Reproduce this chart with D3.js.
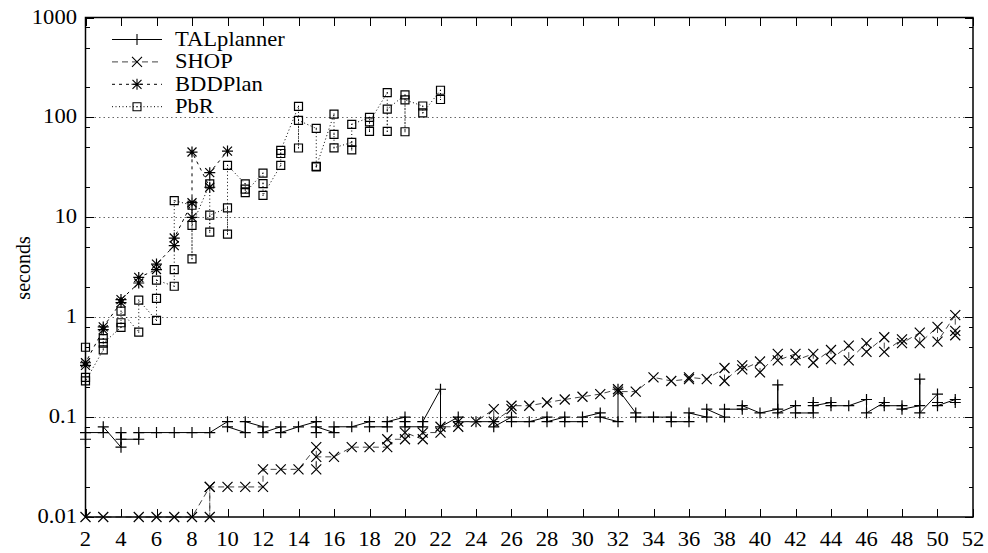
<!DOCTYPE html>
<html>
<head>
<meta charset="utf-8">
<script src="https://cdn.jsdelivr.net/npm/d3@7/dist/d3.min.js"></script>
<style>
  body { margin: 0; background: #fff; }
  svg { display: block; font-family: "Liberation Serif", "Times New Roman", serif; }
  .lbl { font-size: 20px; fill: #000; }
</style>
</head>
<body>
<svg id="chart" width="988" height="553"></svg>
<script>
// problem sizes (x) and run times in seconds, several runs per size, in plot order
const sizesAll = [2,3,4,5,6,7,8,9,10,11,12,13,14,15,16,17,18,19,20,21,22,23,24,25,26,
  27,28,29,30,31,32,33,34,35,36,37,38,39,40,41,42,43,44,45,46,47,48,49,50,51];

const talTimes = [
  [0.06,0.07],[0.07,0.08],[0.05,0.07,0.06],[0.06,0.07],[0.07],[0.07],[0.07],[0.07],
  [0.09,0.08],[0.07,0.09],[0.08,0.07],[0.08,0.07],[0.08],[0.09,0.07,0.08],[0.07,0.08],
  [0.08],[0.09,0.08],[0.08,0.09],[0.1,0.09,0.08],[0.08,0.09],[0.19,0.08],[0.1,0.09],
  [0.09],[0.09,0.08],[0.1,0.09],[0.09],[0.1,0.09],[0.1,0.09],[0.09,0.1],[0.11,0.1],
  [0.09,0.19],[0.11,0.1],[0.1],[0.1,0.09],[0.09,0.11],[0.1,0.12],[0.1,0.12],
  [0.12,0.13],[0.11],[0.12,0.21,0.11],[0.13,0.11],[0.11,0.14,0.13],[0.14,0.13],
  [0.13],[0.15,0.11],[0.14,0.13],[0.13,0.12],[0.13,0.24,0.11],[0.17,0.14,0.13],[0.15,0.14]
];

const shopTimes = [
  [0.01],[0.01],[],[0.01],[0.01],[0.01],[0.01],[0.02,0.01,0.02],[0.02],[0.02],
  [0.02,0.03],[0.03],[0.03],[0.05,0.03,0.04],[0.04],[0.05],[0.05],[0.05,0.06],
  [0.06,0.07],[0.06,0.07],[0.07,0.08],[0.08,0.09],[0.09],[0.12,0.09],[0.12,0.13],
  [0.13],[0.14],[0.15],[0.16],[0.17],[0.19,0.18],[0.18],[0.25],[0.23],[0.24,0.25],
  [0.24],[0.31,0.23],[0.33,0.3],[0.36,0.28],[0.43,0.37],[0.43,0.37],[0.43,0.35],
  [0.47,0.38],[0.52,0.37],[0.55,0.45],[0.63,0.45],[0.6,0.55],[0.7,0.55],[0.8,0.57],
  [1.05,0.73,0.66]
];

const bddSizes = [2,3,4,5,6,7,8,9,10];
const bddTimes = [
  [0.33,0.35],[0.75,0.8],[1.4,1.5],[2.2,2.5],[3.0,3.4],[5.2,6.2],[14,10,45],[20,28],[46]
];

const pbrSizes = [2,3,4,5,6,7,8,9,10,11,12,13,14,15,16,17,18,19,20,21,22];
const pbrTimes = [
  [0.5,0.25,0.23],[0.47,0.61,0.55],[0.79,0.88,1.15],[0.71,1.48],[0.93,1.54,2.35],
  [2.04,3.0,14.7],[13.2,3.83,8.3],[21.6,7.1,10.5],[12.4,6.8,33.1],[21.6,19.1,17.7],
  [27.7,21.7,16.6],[33.1,43.5,46.8],[129,49.4,93.3],[77.6,32.4,32],[108,67.6,49.6],
  [56.2,47.3,85.1],[100,72.4,90],[177,72.4,121],[168,71.8,150],[130,110.8],[187,151]
];

const xTickValues = [2,4,6,8,10,12,14,16,18,20,22,24,26,28,30,32,34,36,38,40,42,44,46,48,50,52];
const yTickValues = [0.01,0.1,1,10,100,1000];
const yTickLabels = ["0.01","0.1","1","10","100","1000"];
const yGridValues = [0.1,1,10,100];
const yMinorFactors = [2,5,8];

const series = [
  {name: "TALplanner", sizes: sizesAll, times: talTimes, dash: null, stroke: "#000", mark: "plus"},
  {name: "SHOP", sizes: sizesAll, times: shopTimes, dash: "6,4", stroke: "#444", mark: "cross"},
  {name: "BDDPlan", sizes: bddSizes, times: bddTimes, dash: "3,4", stroke: "#000", mark: "star"},
  {name: "PbR", sizes: pbrSizes, times: pbrTimes, dash: "1,2.5", stroke: "#000", mark: "box"}
];

const svg = d3.select("#chart");
const plotLeft = 85.5, plotRight = 973, plotTop = 17.5, plotBottom = 517;
const textStretch = 1.13; // the source text is a little wider than it is tall

const x = d3.scaleLinear().domain([2, 52]).range([plotLeft, plotRight]);
const y = d3.scaleLog().domain([0.01, 1000]).range([plotBottom, plotTop]);

function label(g, tx, ty, anchor, str) {
  return g.append("text").attr("class", "lbl").attr("text-anchor", anchor)
    .attr("transform", `translate(${tx},${ty}) scale(${textStretch},1)`).text(str);
}

// grid
svg.append("g").selectAll("line").data(yGridValues).join("line")
  .attr("x1", plotLeft).attr("x2", plotRight)
  .attr("y1", d => Math.round(y(d)) + 0.5).attr("y2", d => Math.round(y(d)) + 0.5)
  .attr("stroke", "#666").attr("stroke-dasharray", "1.5,3");

// ticks (inward, mirrored)
const ticks = svg.append("g").attr("stroke", "#000").attr("shape-rendering", "crispEdges");
xTickValues.forEach(v => {
  const px = Math.round(x(v)) + 0.5;
  ticks.append("line").attr("x1", px).attr("x2", px).attr("y1", plotBottom).attr("y2", plotBottom - 8);
  ticks.append("line").attr("x1", px).attr("x2", px).attr("y1", plotTop).attr("y2", plotTop + 8);
});
const yMinor = [];
yTickValues.slice(0, -1).forEach(d => yMinorFactors.forEach(f => yMinor.push(d * f)));
yTickValues.forEach(v => {
  const py = Math.round(y(v)) + 0.5;
  ticks.append("line").attr("x1", plotLeft).attr("x2", plotLeft + 8).attr("y1", py).attr("y2", py);
  ticks.append("line").attr("x1", plotRight).attr("x2", plotRight - 8).attr("y1", py).attr("y2", py);
});
yMinor.forEach(v => {
  const py = Math.round(y(v)) + 0.5;
  ticks.append("line").attr("x1", plotLeft).attr("x2", plotLeft + 4).attr("y1", py).attr("y2", py);
  ticks.append("line").attr("x1", plotRight).attr("x2", plotRight - 4).attr("y1", py).attr("y2", py);
});

// tick labels
const xLabels = svg.append("g");
xTickValues.forEach(v => label(xLabels, x(v), 546, "middle", v));
const yLabels = svg.append("g");
yTickValues.forEach((v, i) => label(yLabels, 77, y(v) + 6, "end", yTickLabels[i]));

svg.append("text").attr("class", "lbl").attr("text-anchor", "middle")
  .attr("transform", "translate(30,268) rotate(-90)").text("seconds");

function markPath(kind, cx, cy) {
  const p = d3.path();
  if (kind === "plus" || kind === "star") {
    const h = 5.5;
    p.moveTo(cx - h, cy); p.lineTo(cx + h, cy);
    p.moveTo(cx, cy - h); p.lineTo(cx, cy + h);
  }
  if (kind === "cross" || kind === "star") {
    const h = kind === "star" ? 4.5 : 5;
    p.moveTo(cx - h, cy - h); p.lineTo(cx + h, cy + h);
    p.moveTo(cx - h, cy + h); p.lineTo(cx + h, cy - h);
  }
  if (kind === "box") {
    const h = 4;
    p.rect(cx - h, cy - h, 2 * h, 2 * h);
    p.moveTo(cx - 0.5, cy); p.lineTo(cx + 0.5, cy);
  }
  return p.toString();
}

const line = d3.line().x(d => x(d.size)).y(d => y(d.t));

series.forEach(s => {
  const pts = s.sizes.flatMap((size, i) => s.times[i].map(t => ({size, t})));
  const g = svg.append("g");
  g.append("path").datum(pts)
    .attr("d", line).attr("fill", "none")
    .attr("stroke", s.stroke).attr("stroke-width", 1)
    .attr("stroke-dasharray", s.dash);
  g.selectAll("path.mk").data(pts).join("path").attr("class", "mk")
    .attr("d", d => markPath(s.mark, x(d.size), y(d.t)))
    .attr("fill", "none").attr("stroke", "#000").attr("stroke-width", 1.2);
});

// legend
const legend = svg.append("g");
series.forEach((s, i) => {
  const ly = 39.5 + i * 22.4;
  legend.append("line").attr("x1", 112).attr("x2", 162).attr("y1", ly).attr("y2", ly)
    .attr("stroke", s.stroke).attr("stroke-dasharray", s.dash);
  legend.append("path").attr("d", markPath(s.mark, 137, ly))
    .attr("fill", "none").attr("stroke", "#000").attr("stroke-width", 1.1);
  label(legend, 175, ly + 6.5, "start", s.name);
});

// frame
svg.append("rect").attr("x", plotLeft).attr("y", plotTop)
  .attr("width", plotRight - plotLeft).attr("height", plotBottom - plotTop)
  .attr("fill", "none").attr("stroke", "#000").attr("stroke-width", 1.5);
</script>
</body>
</html>
